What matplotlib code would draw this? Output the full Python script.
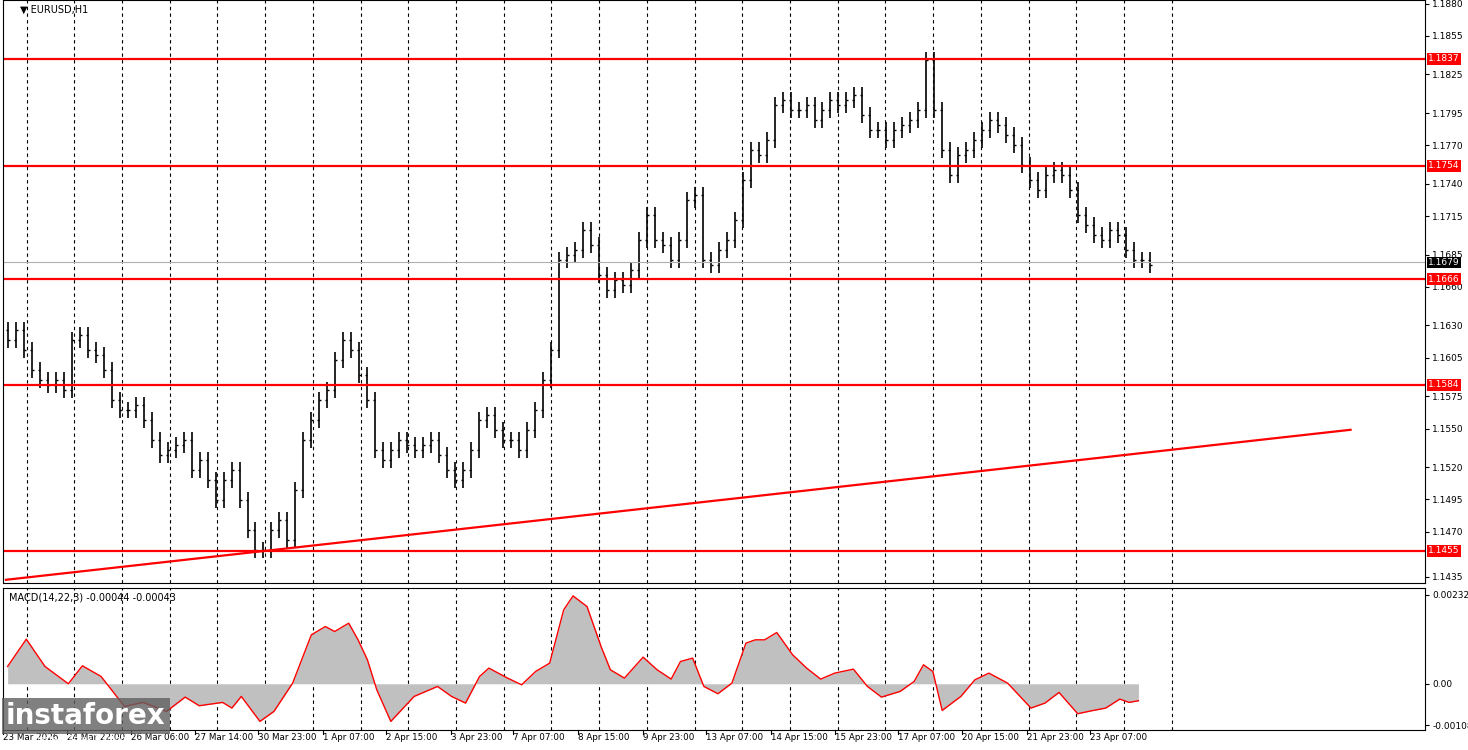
import numpy as np
import matplotlib.pyplot as plt

# price path, sampled every 8 px of chart time (approx 3 H1 bars)
closes_px = [340, 330, 350, 370, 380, 385, 380, 390, 340, 335, 350, 355, 370, 400, 410, 410,
             405, 420, 440, 455, 450, 445, 440, 470, 460, 480, 500, 480, 470, 500, 530, 550,
             550, 530, 520, 540, 490, 440, 420, 400, 390, 360, 340, 350, 375, 400, 450, 460,
             450, 440, 445, 450, 445, 440, 455, 470, 480, 470, 450, 420, 415, 430, 440, 440,
             450, 430, 410, 380, 350, 260, 255, 250, 230, 245, 275, 290, 280, 285, 270, 240,
             215, 240, 245, 260, 240, 200, 195, 260, 265, 250, 240, 220, 180, 150, 155, 140,
             105, 100, 110, 110, 105, 120, 110, 100, 105, 100, 95, 115, 130, 130, 140, 130,
             125, 120, 110, 60, 110, 150, 175, 155, 150, 140, 130, 120, 125, 135, 145, 165,
             180, 190, 175, 170, 175, 190, 215, 225, 235, 240, 230, 235, 250, 260, 260, 265]
PX0, PRICE0, PX_PER_UNIT = 59, 1.1837, 7.764e-5
closes = [PRICE0 - (p - PX0) * PX_PER_UNIT for p in closes_px]

levels = [1.1837, 1.1754, 1.1666, 1.1584, 1.1455]
last_price = 1.1679
trend = ([3, 1350], [1.14325, 1.15490])

price_ticks = [1.1880, 1.1855, 1.1825, 1.1795, 1.1770, 1.1740, 1.1715, 1.1685, 1.1660,
               1.1630, 1.1605, 1.1575, 1.1550, 1.1520, 1.1495, 1.1470, 1.1435]

# MACD main line, (chart x, value in 1e-5)
macd_xz = [5, 25, 45, 70, 85, 105, 130, 150, 175, 195, 210, 235, 245, 255, 275, 290, 310, 330,
           345, 355, 370, 380, 390, 400, 415, 440, 465, 480, 495, 510, 520, 540, 555, 570, 585,
           600, 610, 625, 640, 650, 665, 685, 700, 715, 725, 738, 750, 765, 780, 795, 805, 815,
           828, 845, 860, 875, 890, 910, 925, 940, 960, 975, 985, 995, 1005, 1025, 1040, 1055,
           1075, 1100, 1115, 1130, 1150, 1165, 1180, 1195, 1205, 1215]
macd_yz = [260, 178, 260, 312, 258, 290, 380, 368, 395, 352, 378, 368, 385, 350, 425, 395, 310,
           165, 140, 155, 130, 180, 240, 330, 425, 350, 320, 350, 370, 290, 265, 295, 315, 275,
           250, 90, 48, 80, 200, 270, 295, 232, 270, 298, 245, 235, 320, 342, 310, 190, 180, 180,
           158, 225, 265, 298, 280, 268, 320, 352, 335, 305, 255, 275, 392, 350, 300, 280, 310,
           385, 370, 338, 402, 393, 385, 358, 368, 363]
macd_x = [x * 1468 / 1568 for x in macd_xz]
macd_vals = [(312 - y) * 0.232 / 267 / 100 for y in macd_yz]
hist_end = 1138

date_labels = ["23 Mar 2026", "24 Mar 22:00", "26 Mar 06:00", "27 Mar 14:00", "30 Mar 23:00",
               "1 Apr 07:00", "2 Apr 15:00", "3 Apr 23:00", "7 Apr 07:00", "8 Apr 15:00",
               "9 Apr 23:00", "13 Apr 07:00", "14 Apr 15:00", "15 Apr 23:00", "17 Apr 07:00",
               "20 Apr 15:00", "21 Apr 23:00", "23 Apr 07:00"]
label_x = [3, 67, 131, 195, 258, 323, 386, 451, 513, 578, 643, 706, 771, 835, 898, 962, 1027, 1090]

fig = plt.figure(figsize=(14.68, 7.5), dpi=100)
ax = fig.add_axes([0.002, 0.223, 0.969, 0.777])
ax2 = fig.add_axes([0.002, 0.027, 0.969, 0.189])
XMAX = 1425

for a in (ax, ax2):
    for g in np.arange(23.7, 1180, 47.8):
        a.axvline(g, color="black", ls=(0, (3, 3)), lw=0.8, zorder=0)
    a.set_xlim(0, XMAX)
    a.yaxis.tick_right()
    a.tick_params(axis="y", labelsize=6.5, length=3, pad=2)
    a.set_xticks([])

# OHLC bars
bx = np.arange(len(closes)) * 8 + 5
for i, c in enumerate(closes):
    o = closes[i - 1] if i else c + 0.0008
    hi = max(o, c) + 0.0006
    lo = min(o, c) - 0.0006
    ax.vlines(bx[i], lo, hi, color="black", lw=1.2)
    ax.hlines(o, bx[i] - 2, bx[i], color="black", lw=1)
    ax.hlines(c, bx[i], bx[i] + 2, color="black", lw=1)

for lv in levels:
    ax.axhline(lv, color="#ff0000", lw=1.6)
ax.axhline(last_price, color="#b0b0b0", lw=0.8)
ax.plot(trend[0], trend[1], color="#ff0000", lw=1.6)
ax.set_ylim(1.14302, 1.18828)
ax.set_yticks(price_ticks)
ax.set_yticklabels(["%.4f" % t for t in price_ticks])
for lv in levels + [last_price]:
    fc = "black" if lv == last_price else "#ff0000"
    ax.text(1.002, lv, "%.4f" % lv, transform=ax.get_yaxis_transform(), fontsize=6.5,
            color="white", va="center", ha="left", zorder=5,
            bbox=dict(boxstyle="square,pad=0.15", fc=fc, ec="none"))
ax.text(0.012, 0.992, "\u25BC EURUSD,H1", transform=ax.transAxes, fontsize=7, va="top")

# MACD
ax2.fill_between(macd_x, macd_vals, 0, color="#c0c0c0", lw=0)
ax2.plot(macd_x, macd_vals, color="#ff0000", lw=1)
ax2.set_ylim(-0.0012, 0.0025)
ax2.set_yticks([0.00232, 0.0, -0.00108])
ax2.set_yticklabels(["0.00232", "0.00", "-0.00108"])
ax2.text(0.004, 0.97, "MACD(14,22,3) -0.00044 -0.00043", transform=ax2.transAxes,
         fontsize=7, va="top")

for lx, lb in zip(label_x, date_labels):
    fig.text(lx / 1468, 0.016, lb, fontsize=6.3, ha="left", va="center")
    fig.lines.append(plt.Line2D([lx / 1468] * 2, [0.027, 0.021], color="black",
                                lw=0.8, transform=fig.transFigure))

# watermark
fig.text(0.004, 0.035, "instaforex", fontsize=20, color="white", fontweight="bold",
         bbox=dict(fc="#606060", ec="none", alpha=0.8, pad=3))
fig.text(0.025, 0.01, "Instant Forex Trading", fontsize=6, color="white")

fig.savefig("out.png", dpi=100)
